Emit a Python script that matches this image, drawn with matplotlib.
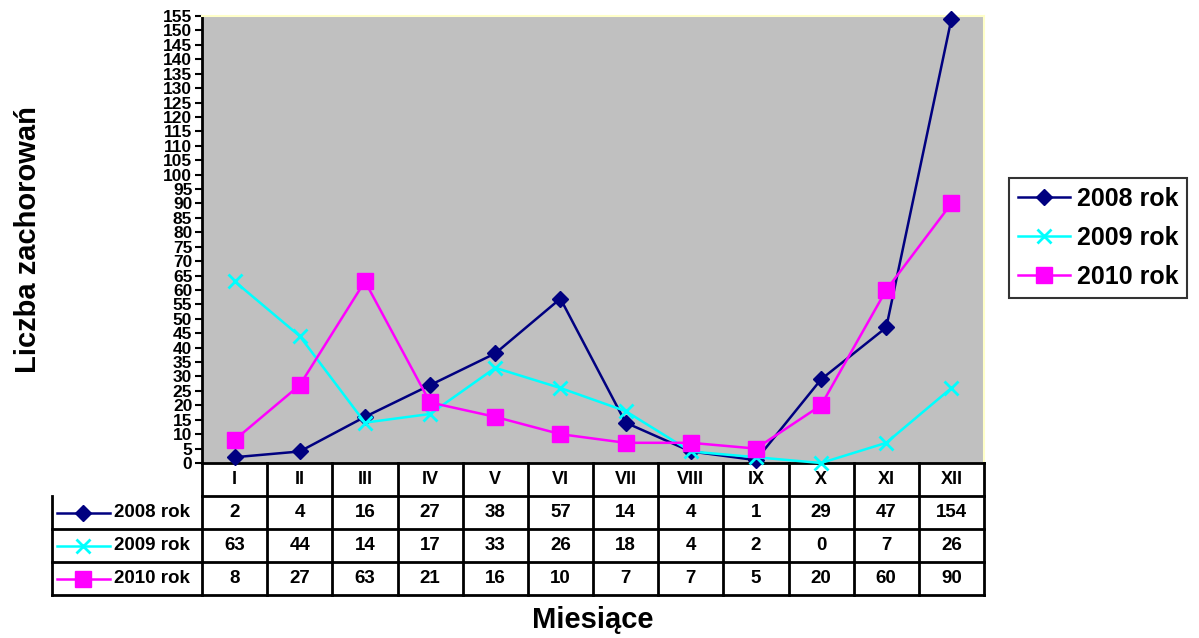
import numpy as np
import matplotlib.pyplot as plt
from matplotlib.lines import Line2D

plt.rcParams['font.family'] = ['Liberation Sans', 'DejaVu Sans']
plt.rcParams['font.weight'] = 'bold'

# Monthly case counts
months = ["I", "II", "III", "IV", "V", "VI", "VII", "VIII", "IX", "X", "XI", "XII"]
cases_2008 = [2, 4, 16, 27, 38, 57, 14, 4, 1, 29, 47, 154]
cases_2009 = [63, 44, 14, 17, 33, 26, 18, 4, 2, 0, 7, 26]
cases_2010 = [8, 27, 63, 21, 16, 10, 7, 7, 5, 20, 60, 90]
series_names = ["2008 rok", "2009 rok", "2010 rok"]

styles = [
    dict(color="#000080", marker="D", ms=8.5, mew=1),
    dict(color="#00FFFF", marker="x", ms=10.5, mew=2),
    dict(color="#FF00FF", marker="s", ms=11, mew=1),
]

W, H = 1199, 638
fig = plt.figure(figsize=(W / 100, H / 100), dpi=100)

# pixel layout of plot area and table
px_left, px_right, px_top, px_bottom = 202, 984, 16, 463
tab_left, row_h = 52, 33

ax = fig.add_axes([px_left / W, 1 - px_bottom / H,
                   (px_right - px_left) / W, (px_bottom - px_top) / H])
ax.set_facecolor("#C0C0C0")
x = np.arange(len(months))
series = [cases_2008, cases_2009, cases_2010]
handles = []
for vals, name, st in zip(series, series_names, styles):
    h, = ax.plot(x, vals, color=st["color"], lw=1.8, marker=st["marker"],
                 ms=st["ms"], mew=st["mew"], mfc=st["color"], mec=st["color"],
                 clip_on=False, zorder=3, label=name)
    handles.append(h)

ax.set_xlim(-0.5, len(months) - 0.5)
ax.set_ylim(0, 155)
ax.set_yticks(np.arange(0, 156, 5))
ax.set_xticks([])
ax.tick_params(axis="y", direction="out", length=5, width=1.5, labelsize=12.5, pad=2)
for lab in ax.get_yticklabels():
    lab.set_fontweight("bold")
ax.spines["left"].set_linewidth(2)
ax.spines["bottom"].set_linewidth(2)
for s in ("top", "right"):
    ax.spines[s].set_color("#FFFFC8")
    ax.spines[s].set_linewidth(1.5)

# data table under the plot
col_w = (px_right - px_left) / len(months)
key_cols = (px_left - tab_left) / col_w
tab = fig.add_axes([tab_left / W, 1 - (px_bottom + 4 * row_h) / H,
                    (px_right - tab_left) / W, 4 * row_h / H])
tab.set_xlim(-0.5 - key_cols, len(months) - 0.5)
tab.set_ylim(4, 0)
tab.axis("off")
lk = dict(color="black", lw=2, clip_on=False)
x0, x1 = -0.5 - key_cols, len(months) - 0.5
for r in range(1, 5):
    tab.plot([x0 if r > 1 else -0.5, x1], [r, r], **lk)
tab.plot([x0, x0], [1, 4], **lk)
for c in range(len(months) + 1):
    tab.plot([c - 0.5, c - 0.5], [0, 4], **lk)

for i, m in enumerate(months):
    tab.text(i, 0.5, m, ha="center", va="center", fontsize=13, fontweight="bold")
for r, (vals, name, st) in enumerate(zip(series, series_names, styles), start=1):
    for i, v in enumerate(vals):
        tab.text(i, r + 0.5, str(v), ha="center", va="center", fontsize=13.5,
                 fontweight="bold")
    lx0 = x0 + 5 / col_w
    lx1 = x0 + 58 / col_w
    tab.add_line(Line2D([lx0, lx1], [r + 0.5, r + 0.5], color=st["color"], lw=1.8))
    tab.plot([(lx0 + lx1) / 2], [r + 0.5], marker=st["marker"], ms=st["ms"],
             mew=st["mew"], color=st["color"], clip_on=False)
    tab.text(x0 + 62 / col_w, r + 0.5, name, ha="left", va="center",
             fontsize=13.5, fontweight="bold")

fig.legend(handles=handles, loc="center", bbox_to_anchor=(1098 / W, 1 - 238 / H),
           frameon=True, fancybox=False, edgecolor="black",
           prop={"weight": "bold", "size": 18}, handlelength=2.1,
           borderpad=0.35, labelspacing=0.6, handletextpad=0.25, borderaxespad=0)
leg = fig.legends[0]
leg.get_frame().set_linewidth(1.5)

fig.text(28 / W, 1 - 240 / H, "Liczba zachorowań", rotation=90, ha="center",
         va="center", fontsize=21, fontweight="bold")
fig.text(593 / W, 1 - 620 / H, "Miesiące", ha="center", va="center",
         fontsize=21, fontweight="bold")

fig.savefig("out.png", dpi=100)
